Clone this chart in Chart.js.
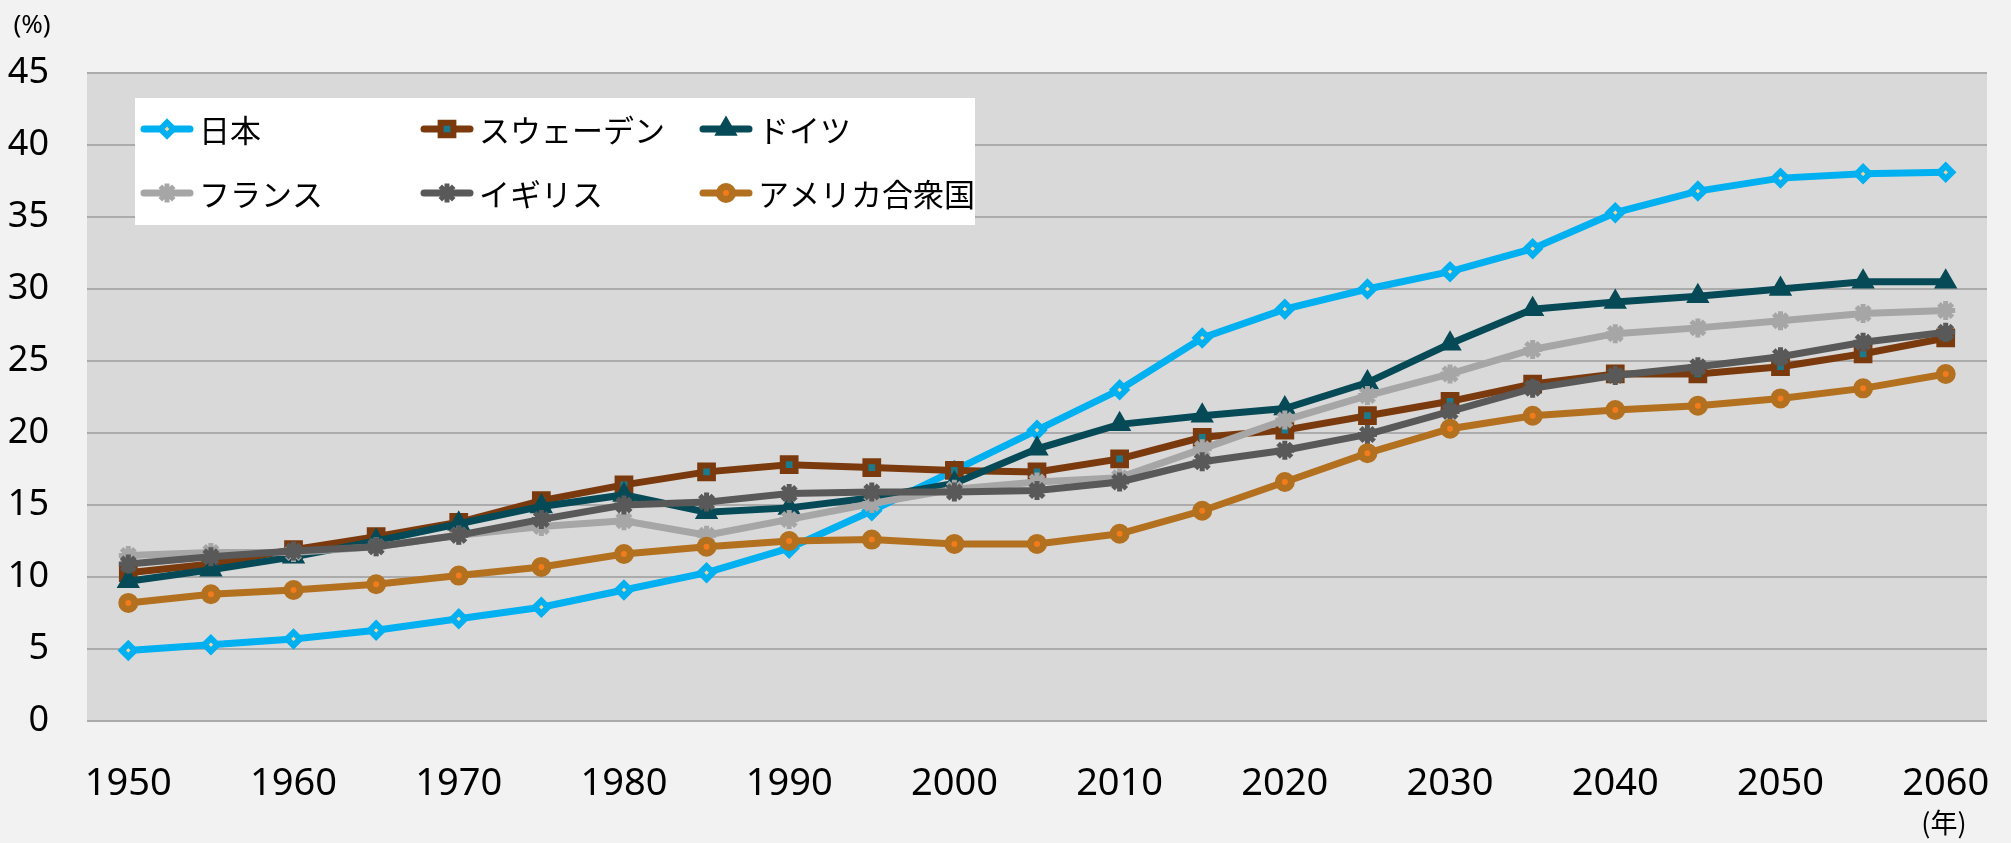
<!DOCTYPE html>
<html>
<head>
<meta charset="utf-8">
<script src="https://cdn.jsdelivr.net/npm/chart.js@4.4.0/dist/chart.umd.min.js"></script>
<style>
  html, body { margin: 0; padding: 0; background: #f2f2f2; }
  #wrap { width: 2011px; height: 843px; }
</style>
</head>
<body>
<div id="wrap"><canvas id="chart" width="2011" height="843"></canvas></div>
<script>
// data (% of population aged 65+)
const years = [1950, 1955, 1960, 1965, 1970, 1975, 1980, 1985, 1990, 1995, 2000, 2005,
               2010, 2015, 2020, 2025, 2030, 2035, 2040, 2045, 2050, 2055, 2060];
const japan   = [4.9, 5.3, 5.7, 6.3, 7.1, 7.9, 9.1, 10.3, 12.0, 14.6, 17.4, 20.2, 23.0, 26.6, 28.6, 30.0, 31.2, 32.8, 35.3, 36.8, 37.7, 38.0, 38.1];
const sweden  = [10.3, 10.9, 11.9, 12.8, 13.8, 15.3, 16.4, 17.3, 17.8, 17.6, 17.4, 17.3, 18.2, 19.7, 20.2, 21.2, 22.2, 23.4, 24.1, 24.1, 24.6, 25.5, 26.6];
const germany = [9.7, 10.5, 11.4, 12.5, 13.7, 14.9, 15.7, 14.5, 14.8, 15.5, 16.5, 18.9, 20.6, 21.2, 21.7, 23.5, 26.2, 28.6, 29.1, 29.5, 30.0, 30.5, 30.5];
const france  = [11.5, 11.7, 11.7, 12.1, 12.9, 13.5, 13.9, 12.9, 14.0, 15.1, 16.1, 16.6, 16.9, 18.9, 20.9, 22.6, 24.1, 25.8, 26.9, 27.3, 27.8, 28.3, 28.5];
const uk      = [10.9, 11.4, 11.8, 12.1, 12.9, 14.0, 15.0, 15.2, 15.8, 15.9, 15.9, 16.0, 16.6, 18.0, 18.8, 19.9, 21.5, 23.1, 24.0, 24.6, 25.3, 26.3, 27.0];
const usa     = [8.2, 8.8, 9.1, 9.5, 10.1, 10.7, 11.6, 12.1, 12.5, 12.6, 12.3, 12.3, 13.0, 14.6, 16.6, 18.6, 20.3, 21.2, 21.6, 21.9, 22.4, 23.1, 24.1];
const names = ['日本', 'スウェーデン', 'ドイツ', 'フランス', 'イギリス', 'アメリカ合衆国'];

const NUM_FONT = '"Noto Sans", "Noto Sans CJK JP", sans-serif';
const JP_FONT = '"Noto Sans CJK JP", "Noto Sans", sans-serif';

function series(i, data, color, style, fill, radius, bw) {
  return {
    label: names[i],
    data: data,
    borderColor: color,
    borderWidth: 7,
    tension: 0,
    pointStyle: style,
    pointRadius: radius,
    pointHoverRadius: radius,
    pointBorderWidth: bw,
    pointBorderColor: color,
    pointBackgroundColor: fill,
    order: 6 - i   // later series drawn on top, like the original
  };
}

const datasets = [
  series(0, japan,   '#00b0f0', 'rectRot',  '#f6d59a', 6.5, 6),
  series(1, sweden,  '#7b3a0d', 'rect',     '#1b7a8c', 9, 6),
  series(2, germany, '#054a56', 'triangle', '#054a56', 9.5, 4),
  series(3, france,  '#a6a6a6', 'star',     '#a6a6a6', 9.5, 5),
  series(4, uk,      '#595959', 'star',     '#595959', 9.5, 5),
  series(5, usa,     '#b3701f', 'circle',   '#f27b1c', 6.5, 7)
];

// grey plot background
const plotBg = {
  id: 'plotBg',
  beforeDraw(chart) {
    const a = chart.chartArea, c = chart.ctx;
    c.save();
    c.fillStyle = '#d9d9d9';
    c.fillRect(a.left, a.top, a.right - a.left, a.bottom - a.top);
    c.restore();
  }
};

// unit labels + legend box inside the plot
const extras = {
  id: 'extras',
  afterDraw(chart) {
    const c = chart.ctx;
    c.save();
    c.fillStyle = '#000';
    c.textBaseline = 'middle';
    c.textAlign = 'center';
    c.font = '26px ' + NUM_FONT;
    c.fillText('(%)', 32, 26);
    c.font = '27px ' + JP_FONT;
    c.fillText('(年)', 1944, 823);

    // legend
    c.fillStyle = '#ffffff';
    c.fillRect(135, 98, 840, 127);
    const cols = [141, 421, 700], rows = [129, 193];
    datasets.forEach((d, i) => {
      const x = cols[i % 3], y = rows[Math.floor(i / 3)];
      c.strokeStyle = d.borderColor;
      c.lineWidth = 7;
      c.lineCap = 'round';
      c.beginPath();
      c.moveTo(x + 3, y);
      c.lineTo(x + 49, y);
      c.stroke();
      c.lineCap = 'butt';
      c.fillStyle = d.pointBackgroundColor;
      c.strokeStyle = d.pointBorderColor;
      c.lineWidth = d.pointBorderWidth;
      Chart.helpers.drawPoint(c, {
        pointStyle: d.pointStyle, radius: d.pointRadius,
        borderWidth: d.pointBorderWidth, rotation: 0
      }, x + 26, y);
      c.fillStyle = '#000';
      c.textAlign = 'left';
      c.font = '31px ' + JP_FONT;
      c.fillText(d.label, x + 58, y + 1);
    });
    c.restore();
  }
};

new Chart(document.getElementById('chart'), {
  type: 'line',
  data: { labels: years.map(String), datasets: datasets },
  options: {
    responsive: false,
    animation: false,
    devicePixelRatio: 1,
    layout: { padding: { top: 73, right: 24, left: 0, bottom: 0 } },
    plugins: { legend: { display: false }, tooltip: { enabled: false } },
    scales: {
      x: {
        offset: true,
        grid: { display: false },
        border: { display: false },
        ticks: {
          autoSkip: false, maxRotation: 0, padding: 32, color: '#000',
          font: { family: NUM_FONT, size: 38 },
          callback: (v, i) => (years[i] % 10 === 0 ? String(years[i]) : '')
        },
        afterFit: s => { s.height = 122; s.paddingLeft = 0; s.paddingRight = 0; }
      },
      y: {
        min: 0, max: 45,
        grid: { color: '#ababab', lineWidth: 2, drawTicks: false },
        border: { display: false },
        ticks: {
          stepSize: 5, padding: 38, color: '#000',
          font: { family: NUM_FONT, size: 36 }
        },
        afterFit: s => { s.width = 87; }
      }
    }
  },
  plugins: [plotBg, extras]
});
</script>
</body>
</html>
